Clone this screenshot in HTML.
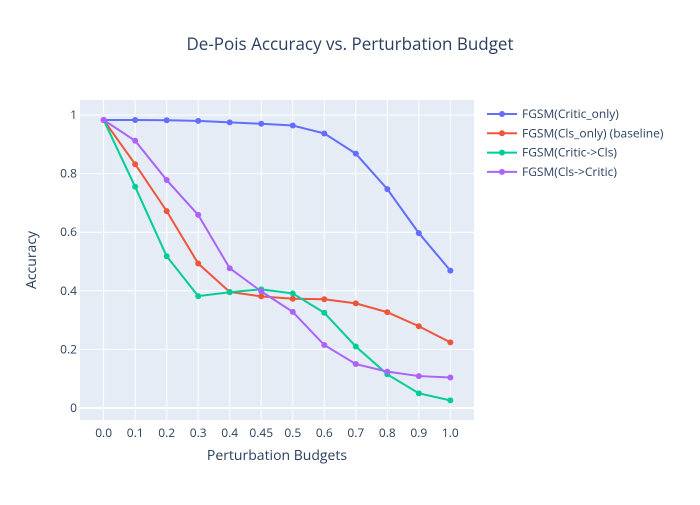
<!DOCTYPE html>
<html><head><meta charset="utf-8"><style>
body{margin:0;background:#fff;}
svg text{font-family:"Open Sans","Liberation Sans",sans-serif;fill:#2a3f5f;}
</style></head><body>
<svg id="chart" width="700" height="500" xmlns="http://www.w3.org/2000/svg">
<rect x="0" y="0" width="700" height="500" fill="#fff"/>
<rect x="80" y="100" width="394" height="320" fill="#e5ecf6"/>
<g id="grid"></g>
<g id="series"></g>
<g id="axes"></g>
<text x="350" y="50" font-size="17" text-anchor="middle">De-Pois Accuracy vs. Perturbation Budget</text>
<text x="277" y="460" font-size="14" text-anchor="middle">Perturbation Budgets</text>
<text x="0" y="0" font-size="14" text-anchor="middle" transform="translate(36,260) rotate(-90)">Accuracy</text>
<g id="legend"></g>
</svg>
<script>
const categories = ["0.0","0.1","0.2","0.3","0.4","0.45","0.5","0.6","0.7","0.8","0.9","1.0"];
const criticOnly = [0.983,0.983,0.982,0.980,0.975,0.970,0.964,0.937,0.868,0.747,0.597,0.469];
const clsOnly = [0.983,0.832,0.672,0.493,0.396,0.381,0.373,0.371,0.357,0.327,0.279,0.224];
const criticToCls = [0.983,0.755,0.518,0.382,0.395,0.405,0.391,0.325,0.210,0.115,0.050,0.026];
const clsToCritic = [0.983,0.912,0.778,0.659,0.477,0.398,0.328,0.215,0.150,0.124,0.109,0.104];
const yTicks = [0,0.2,0.4,0.6,0.8,1];
const yTickLabels = ["0","0.2","0.4","0.6","0.8","1"];
const seriesNames = ["FGSM(Critic_only)","FGSM(Cls_only) (baseline)","FGSM(Critic->Cls)","FGSM(Cls->Critic)"];

const NS="http://www.w3.org/2000/svg";
const L=80,R=474,T=100,B=420;
const step=(R-L)/(categories.length+0.5);
function xPos(i){return L+step*(i+0.75);}
function yPos(v){return 408-v*293;}
function mk(tag,attrs,parent){const e=document.createElementNS(NS,tag);for(const k in attrs)e.setAttribute(k,attrs[k]);parent.appendChild(e);return e;}
const grid=document.getElementById('grid'),axes=document.getElementById('axes'),ser=document.getElementById('series'),leg=document.getElementById('legend');
categories.forEach((c,i)=>{
  const g=mk('line',{x1:xPos(i),x2:xPos(i),y1:T,y2:B,stroke:'#fff','stroke-width':1},grid);
  
  
  const t=mk('text',{x:xPos(i),y:B+17,'font-size':12,'text-anchor':'middle'},axes);
  t.textContent=c;
  
  
});
yTicks.forEach((v,i)=>{
  const g=mk('line',{x1:L,x2:R,y1:yPos(v),y2:yPos(v),stroke:'#fff','stroke-width':v===0?2:1},grid);
  
  
  const t=mk('text',{x:L-3,y:yPos(v)+4,'font-size':12,'text-anchor':'end'},axes);
  t.textContent=yTickLabels[i];
  
  
});
const all=[criticOnly,clsOnly,criticToCls,clsToCritic];
const colors=['#636efa','#EF553B','#00cc96','#ab63fa'];
all.forEach((d,s)=>{
  const g=mk('g',{},ser);
  
  
  const p=mk('polyline',{points:d.map((v,i)=>xPos(i)+','+yPos(v)).join(' '),fill:'none',stroke:colors[s],'stroke-width':2},g);
  
  
  d.forEach((v,i)=>{
    const c=mk('circle',{cx:xPos(i),cy:yPos(v),r:3,fill:colors[s]},g);
    
    
  });
  const ly=114+s*19.3;
  const lg=mk('g',{},leg);
  
  
  mk('line',{x1:487,x2:517,y1:ly,y2:ly,stroke:colors[s],'stroke-width':2},lg);
  mk('circle',{cx:502,cy:ly,r:3,fill:colors[s]},lg);
  const t=mk('text',{x:522,y:ly+4,'font-size':12},lg);
  t.textContent=seriesNames[s];
});
</script>
</body></html>
